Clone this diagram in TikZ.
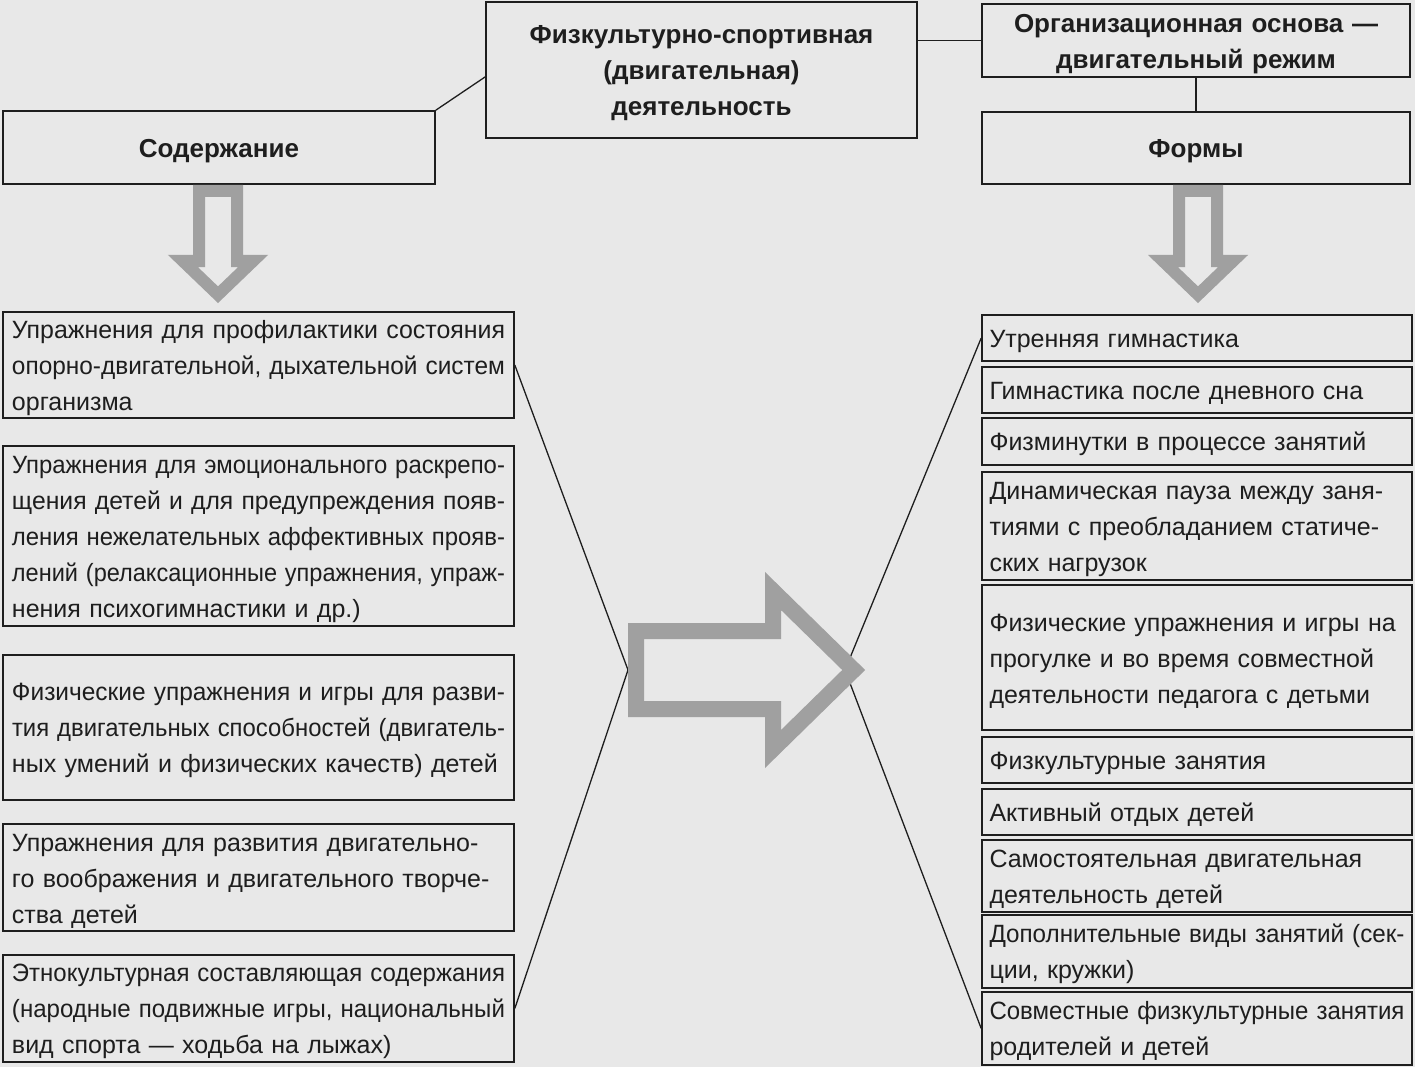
\documentclass[tikz,border=0pt]{standalone}
\usepackage{fontspec}
\usepackage{graphicx}
\setmainfont{Liberation Sans}
\usetikzlibrary{calc}
\definecolor{bg}{HTML}{E8E8E8}
\definecolor{ink}{HTML}{1E1E1E}
\definecolor{hatch}{HTML}{A0A0A0}
\newsavebox\jbox
\newcommand\JL[2]{\sbox\jbox{#2}\ifdim\wd\jbox>#1\relax\scalebox{\fpeval{(#1)/(\the\wd\jbox)}}[1]{\usebox\jbox}\else\makebox[#1][s]{#2}\fi}
\newcommand\LJ[1]{\JL{493pt}{#1}}
\newcommand\RJ[1]{\JL{415pt}{#1}}
\begin{document}
\begin{tikzpicture}[x=1pt,y=-1pt,
  box/.style={draw=ink, line width=1.6pt, inner sep=0pt, text=ink, text height=24pt, font=\fontsize{25}{36}\selectfont},
  lbox/.style={box, minimum width=511pt, text width=493pt, align=left},
  rbox/.style={box, minimum width=430pt, text width=415pt, align=left},
  hbox/.style={box, text height=25pt, font=\fontsize{26}{36}\selectfont\bfseries, align=center},
  conn/.style={draw=ink, line width=1.3pt},
  fatarrow/.style={draw=hatch, line width=12pt, miter limit=20, line join=miter},
  bigarrow/.style={draw=hatch, line width=16pt, miter limit=20, line join=miter}
]
\path[use as bounding box, fill=bg] (0,0) rectangle (1415,1067);

% headings
\node[hbox, minimum width=431pt, text width=420pt, minimum height=136pt] (T) at (701.5,70) {Физкультурно-спортивная\\(двигательная)\\деятельность};
\node[hbox, minimum width=432pt, text width=420pt, minimum height=73pt] (C) at (219,147.5) {Содержание};
\node[hbox, minimum width=428pt, text width=420pt, minimum height=73pt] (O) at (1196,40.5) {Организационная основа —\\двигательный режим};
\node[hbox, minimum width=428pt, text width=420pt, minimum height=72pt] (F) at (1196,148) {Формы};

% left column
\node[lbox, minimum height=106pt] (L1) at (258.5,365) {\LJ{Упражнения для профилактики состояния}\\\LJ{опорно-двигательной, дыхательной систем}\\организма};
\node[lbox, minimum height=180pt] (L2) at (258.5,536) {\LJ{Упражнения для эмоционального раскрепо-}\\\LJ{щения детей и для предупреждения появ-}\\\LJ{ления нежелательных аффективных прояв-}\\\LJ{лений (релаксационные упражнения, упраж-}\\нения психогимнастики и др.)};
\node[lbox, minimum height=145pt] (L3) at (258.5,727.5) {\LJ{Физические упражнения и игры для разви-}\\\LJ{тия двигательных способностей (двигатель-}\\ных умений и физических качеств) детей};
\node[lbox, minimum height=107pt] (L4) at (258.5,877.5) {\LJ{Упражнения для развития двигательно-}\\\LJ{го воображения и двигательного творче-}\\ства детей};
\node[lbox, minimum height=107pt] (L5) at (258.5,1008.5) {\LJ{Этнокультурная составляющая содержания}\\\LJ{(народные подвижные игры, национальный}\\вид спорта — ходьба на лыжах)};

% right column
\node[rbox, minimum height=46pt] (R1) at (1197,338) {Утренняя гимнастика};
\node[rbox, minimum height=46pt] (R2) at (1197,390) {Гимнастика после дневного сна};
\node[rbox, minimum height=47pt] (R3) at (1197,441.5) {Физминутки в процессе занятий};
\node[rbox, minimum height=108pt] (R4) at (1197,526) {\RJ{Динамическая пауза между заня-}\\\RJ{тиями с преобладанием статиче-}\\ских нагрузок};
\node[rbox, minimum height=145pt] (R5) at (1197,657.5) {\RJ{Физические упражнения и игры на}\\\RJ{прогулке и во время совместной}\\деятельности педагога с детьми};
\node[rbox, minimum height=46pt] (R6) at (1197,760) {Физкультурные занятия};
\node[rbox, minimum height=46pt] (R7) at (1197,812) {Активный отдых детей};
\node[rbox, minimum height=72pt] (R8) at (1197,876) {Самостоятельная двигательная\\деятельность детей};
\node[rbox, minimum height=73pt] (R9) at (1197,951.5) {\RJ{Дополнительные виды занятий (сек-}\\ции, кружки)};
\node[rbox, minimum height=73pt] (R10) at (1197,1028.5) {\RJ{Совместные физкультурные занятия}\\родителей и детей};

% connectors
\draw[conn] ($(T.north west)!0.55!(T.south west)$) -- (C.north east);
\draw[conn] (O.west) -- (O.west -| T.east);
\draw[conn] (O.south) -- (F.north);
\coordinate (cl) at (628,670);
\coordinate (cr) at (845,670);
\draw[conn] (L1.east) -- (cl) -- (L5.east);
\draw[conn] (R1.west) -- (cr) -- (R10.west);

% hollow arrows
\draw[fatarrow] (199,191) -- (237,191) -- (237,261) -- (253.1,261) -- (218,294.7) -- (182.9,261) -- (199,261) -- cycle;
\draw[fatarrow] (1179,191) -- (1217,191) -- (1217,261) -- (1233.1,261) -- (1198,294.7) -- (1162.9,261) -- (1179,261) -- cycle;
\draw[bigarrow] (636,631) -- (773,631) -- (773,591) -- (853.7,670) -- (773,749) -- (773,709) -- (636,709) -- cycle;
\end{tikzpicture}
\end{document}
